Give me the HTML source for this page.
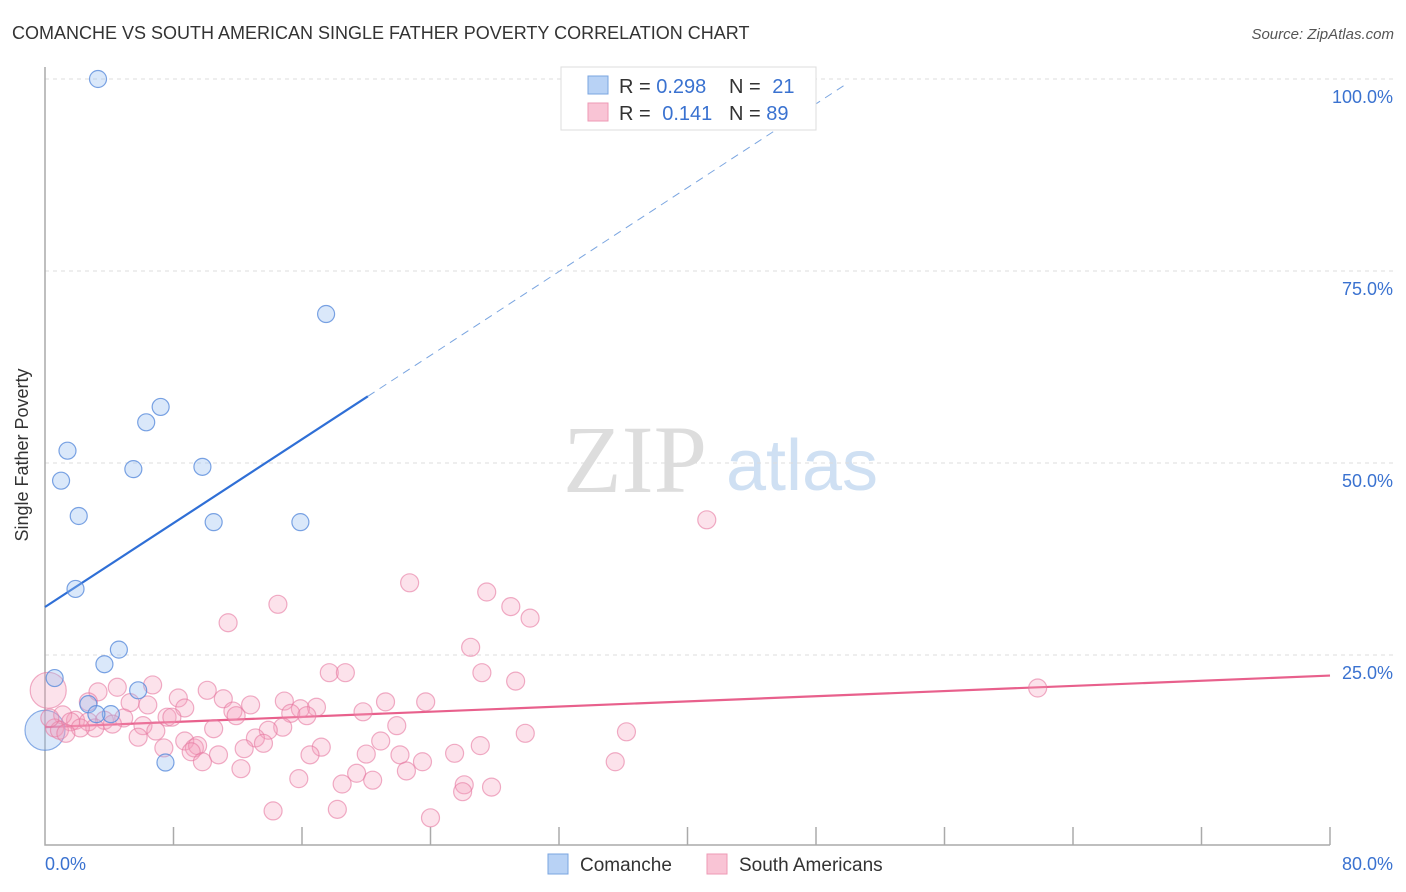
<!DOCTYPE html>
<html><head><meta charset="utf-8"><style>
body{margin:0;background:#fff;font-family:"Liberation Sans",sans-serif}
svg{display:block}
</style></head><body>
<svg id="chart" width="1406" height="892" xmlns="http://www.w3.org/2000/svg">
<text x="12" y="39" font-size="18" fill="#333">COMANCHE VS SOUTH AMERICAN SINGLE FATHER POVERTY CORRELATION CHART</text>
<text x="1394" y="39" font-size="15" fill="#555" font-style="italic" text-anchor="end">Source: ZipAtlas.com</text>
<g>
<text x="635" y="492" font-size="96" font-family="Liberation Serif,serif" fill="#ddd" text-anchor="middle">ZIP</text>
<text x="802" y="490" font-size="72" fill="#cfe0f3" text-anchor="middle">atlas</text>
</g>
<g id="grid"></g>
<g id="axes"></g>
<g id="lines"></g>
<g id="pts"></g>
<text x="28" y="455" font-size="18" fill="#333" text-anchor="middle" transform="rotate(-90 28 455)">Single Father Poverty</text>
<g>
<rect x="561" y="67" width="255" height="63" fill="#fff" stroke="#ddd"/>
<rect x="588" y="76" width="20" height="18" fill="#b8d2f5" stroke="#7aa5e0"/>
<rect x="588" y="103" width="20" height="18" fill="#f9c4d5" stroke="#ee9ab5"/>
<text x="619" y="93" font-size="20" fill="#333">R = <tspan fill="#3a72d0">0.298</tspan></text>
<text x="729" y="93" font-size="20" fill="#333">N = <tspan fill="#3a72d0" dx="6">21</tspan></text>
<text x="619" y="120" font-size="20" fill="#333">R = <tspan fill="#3a72d0" dx="6">0.141</tspan></text>
<text x="729" y="120" font-size="20" fill="#333">N = <tspan fill="#3a72d0">89</tspan></text>
</g>
<g>
<rect x="548" y="854" width="20" height="20" fill="#b8d2f5" stroke="#7aa5e0"/>
<text x="580" y="871" font-size="19" fill="#333">Comanche</text>
<rect x="707" y="854" width="20" height="20" fill="#f9c4d5" stroke="#ee9ab5"/>
<text x="739" y="871" font-size="19" fill="#333">South Americans</text>
</g>
</svg>
<script>
const blueX=[3.3,17.5,7.2,6.3,1.4,5.5,9.8,1.0,2.1,10.5,15.9,1.9,4.6,3.7,0.6,5.8,2.7,4.1,3.2,7.5];
const blueY=[100,69.4,57.3,55.3,51.6,49.2,49.5,47.7,43.1,42.3,42.3,33.6,25.7,23.8,22.0,20.4,18.6,17.3,17.3,11.0];
const pinkX=[41.2,22.7,27.5,14.5,29.0,30.2,11.4,26.5,17.7,18.7,27.2,29.3,61.8,6.7,4.5,3.3,10.1,8.3,11.1,23.7,21.2,14.9,12.8,16.9,2.7,5.3,6.4,8.7,11.7,15.9,15.3,19.8,11.9,7.6,7.9,4.9,16.3,1.9,3.7,4.2,2.7,3.1,6.1,10.5,14.8,21.9,6.9,13.9,29.9,36.2,13.1,5.8,27.1,17.2,8.7,20.9,9.3,13.6,9.5,7.4,12.4,25.5,22.1,20.0,9.1,10.8,16.5,9.8,23.5,35.5,12.2,19.4,22.5,15.8,20.4,26.1,18.5,27.8,26.0,14.2,18.2,24.0,1.1,1.6,0.6,0.9,0.3,2.2,1.3];
const pinkY=[42.6,34.4,33.2,31.6,31.3,29.8,29.2,26.0,22.7,22.7,22.7,21.6,20.7,21.1,20.8,20.2,20.4,19.4,19.3,18.9,18.9,19.0,18.5,18.2,18.9,18.8,18.5,18.1,17.7,18.0,17.4,17.6,17.1,16.9,16.9,16.8,17.1,16.5,16.5,16.0,16.3,15.5,15.8,15.4,15.6,15.8,15.1,15.2,14.8,15.0,14.2,14.3,13.2,13.0,13.8,13.8,12.9,13.5,13.2,12.9,12.8,12.2,12.0,12.1,12.4,12.0,12.0,11.1,11.1,11.1,10.2,9.6,9.9,8.9,8.7,8.1,8.2,7.8,7.2,4.7,4.9,3.8,17.2,16.3,15.5,15.2,16.8,15.5,14.8];
const bigBlue=[0,15.2];
const bigPink=[0.2,20.4];
const blueTrend=[0,31.25,1.365];
const pinkTrend=[0,15.6,0.084];
const yTicks=[25,50,75,100];
const xTickLabels=["0.0%","80.0%"];
const NS="http://www.w3.org/2000/svg";
const sx=v=>45+v/80*1285, sy=v=>847-v*7.68;
function mk(tag,attrs,parent){const e=document.createElementNS(NS,tag);for(const k in attrs)e.setAttribute(k,attrs[k]);document.getElementById(parent).appendChild(e);return e;}
yTicks.forEach(t=>{
 const g=mk('line',{x1:45,x2:1394,y1:sy(t),y2:sy(t),stroke:'#ddd','stroke-dasharray':'4 4'},'grid');
 
 
 const l=mk('text',{x:1393,y:sy(t)+24,'font-size':18,fill:'#3a72d0','text-anchor':'end'},'grid');
 l.textContent=t.toFixed(1)+'%';
 
 
});
const ax=mk('path',{d:'M45 67V845H1330',fill:'none',stroke:'#aaa','stroke-width':1.5},'axes');


for(let v=8;v<=80;v+=8){const t=mk('line',{x1:sx(v),x2:sx(v),y1:827,y2:845,stroke:'#aaa','stroke-width':1.5},'axes');
 
 }
const xl0=mk('text',{x:45,y:870,'font-size':18,fill:'#3a72d0'},'axes');xl0.textContent=xTickLabels[0];


const xl1=mk('text',{x:1393,y:870,'font-size':18,fill:'#3a72d0','text-anchor':'end'},'axes');xl1.textContent=xTickLabels[1];


function pt(x,y,r,fill,stroke,name){const c=mk('circle',{cx:sx(x),cy:sy(y),r:r,fill:fill,stroke:stroke,'stroke-width':1.2},'pts');
 
 }
pt(bigPink[0],bigPink[1],18,'rgba(245,160,188,0.3)','rgba(230,120,160,0.6)','pink-point-large');
pt(bigBlue[0],bigBlue[1],20,'rgba(150,190,240,0.35)','rgba(90,140,220,0.7)','blue-point-large');
pinkX.forEach((x,i)=>pt(x,pinkY[i],9,'rgba(245,160,188,0.3)','rgba(230,120,160,0.6)','pink-point'));
blueX.forEach((x,i)=>pt(x,blueY[i],8.5,'rgba(150,190,240,0.35)','rgba(90,140,220,0.8)','blue-point'));
const bx1=20.1,bxEnd=(100-blueTrend[1])/blueTrend[2]*1.0;
const bs=mk('line',{x1:sx(0),y1:sy(blueTrend[1]),x2:sx(bx1),y2:sy(blueTrend[1]+blueTrend[2]*bx1),stroke:'#2f6fd6','stroke-width':2.2},'lines');


const bxe=50;
const bd=mk('line',{x1:sx(bx1),y1:sy(blueTrend[1]+blueTrend[2]*bx1),x2:sx(bxe),y2:sy(blueTrend[1]+blueTrend[2]*bxe),stroke:'#7aa5e0','stroke-width':1,'stroke-dasharray':'8 6'},'lines');


const pl=mk('line',{x1:sx(0),y1:sy(pinkTrend[1]),x2:sx(80),y2:sy(pinkTrend[1]+pinkTrend[2]*80),stroke:'#e8608c','stroke-width':2.2},'lines');


</script>
</body></html>
